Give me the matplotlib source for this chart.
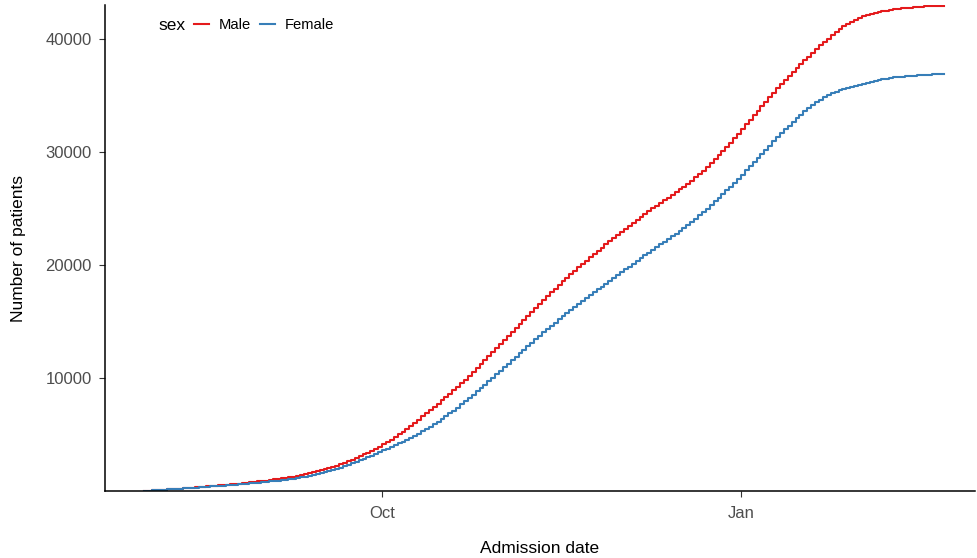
import numpy as np
import matplotlib
matplotlib.use("Agg")
import matplotlib.pyplot as plt
import matplotlib.dates as mdates

plt.rcParams['font.family'] = ['Liberation Sans', 'DejaVu Sans']

# daily admissions, starting on the first admission date
first_day = np.datetime64('2020-08-01')
sexes = ['Male', 'Female']
colors = ['#E41A1C', '#377EB8']

male_daily = [
    18, 19, 20, 21, 22, 22, 23, 24, 25, 26,
    26, 27, 27, 28, 28, 28, 29, 29, 29, 29,
    30, 31, 32, 33, 34, 35, 36, 38, 40, 41,
    40, 42, 44, 46, 48, 50, 52, 55, 59, 64,
    68, 72, 77, 82, 87, 92, 97, 102, 108, 115,
    122, 128, 135, 141, 148, 154, 160, 166, 170, 176,
    185, 195, 205, 215, 225, 235, 245, 255, 265, 275,
    272, 276, 280, 283, 285, 287, 290, 293, 290, 294,
    315, 322, 328, 334, 340, 344, 348, 352, 356, 361,
    355, 356, 357, 356, 355, 355, 354, 354, 354, 354,
    352, 349, 345, 341, 337, 333, 329, 325, 322, 317,
    305, 300, 296, 292, 289, 287, 285, 283, 281, 282,
    278, 275, 271, 268, 265, 262, 260, 258, 257, 256,
    250, 245, 240, 238, 238, 240, 243, 247, 252, 257,
    265, 280, 295, 310, 322, 334, 345, 358, 367, 374,
    385, 393, 398, 402, 404, 404, 403, 403, 404, 404,
    395, 390, 383, 376, 368, 362, 356, 346, 340, 334,
    340, 335, 330, 320, 310, 300, 290, 275, 260, 240,
    220, 195, 175, 155, 140, 125, 110, 95, 75, 60,
    58, 55, 50, 45, 40, 36, 32, 30, 28, 26,
    20, 16, 13, 10, 7, 4,
]

female_daily = [
    18, 19, 20, 20, 21, 22, 23, 23, 24, 25,
    23, 23, 24, 24, 24, 25, 25, 25, 26, 26,
    25, 26, 27, 28, 28, 29, 30, 31, 32, 34,
    32, 34, 35, 37, 38, 39, 41, 43, 44, 47,
    60, 66, 72, 77, 82, 86, 90, 95, 99, 103,
    112, 118, 123, 128, 132, 135, 139, 142, 144, 147,
    148, 150, 153, 156, 159, 161, 164, 167, 170, 172,
    190, 198, 206, 214, 222, 228, 234, 240, 246, 252,
    265, 272, 280, 286, 291, 295, 299, 302, 304, 306,
    308, 310, 311, 312, 312, 312, 312, 311, 311, 311,
    305, 300, 296, 292, 288, 285, 282, 279, 277, 276,
    270, 265, 262, 260, 258, 257, 256, 255, 254, 253,
    253, 252, 252, 251, 250, 250, 249, 248, 248, 247,
    243, 240, 238, 237, 238, 241, 245, 250, 256, 262,
    270, 280, 290, 298, 305, 312, 318, 322, 326, 329,
    340, 348, 355, 360, 364, 366, 367, 367, 367, 366,
    366, 363, 359, 354, 348, 341, 333, 324, 313, 299,
    285, 265, 245, 225, 205, 185, 165, 145, 125, 105,
    100, 97, 94, 90, 88, 86, 83, 80, 77, 75,
    65, 55, 48, 42, 37, 33, 30, 24, 20, 16,
    30, 25, 20, 16, 12, 7,
]

y_ticks = [10000, 20000, 30000, 40000]
x_ticks = ['2020-10-01', '2021-01-01']
x_tick_labels = ['Oct', 'Jan']

fig = plt.figure(figsize=(9.78, 5.58), dpi=100)
ax = fig.add_axes([0.1074, 0.120, 0.8896, 0.871])

for sex, daily, col in zip(sexes, [male_daily, female_daily], colors):
    days = first_day + np.arange(len(daily))
    ax.step(days.astype('datetime64[D]').astype(object), np.cumsum(daily),
            where='post', color=col, lw=1.5, label=sex)

oct1 = mdates.date2num(np.datetime64('2020-10-01'))
ax.set_xlim(oct1 - 71, oct1 + 152)
ax.set_ylim(0, 43000)

ax.set_xticks([mdates.date2num(np.datetime64(d)) for d in x_ticks])
ax.set_xticklabels(x_tick_labels)
ax.set_yticks(y_ticks)
ax.set_yticklabels([str(v) for v in y_ticks])

for s in ['top', 'right']:
    ax.spines[s].set_visible(False)
for s in ['left', 'bottom']:
    ax.spines[s].set_linewidth(1.1)
    ax.spines[s].set_color('black')
ax.tick_params(axis='both', length=4.5, width=0.8, color='#333333',
               labelcolor='#4D4D4D', labelsize=12, pad=5)
ax.tick_params(axis='x', pad=6)

ax.set_xlabel('Admission date', fontsize=12.5, labelpad=15)
ax.set_ylabel('Number of patients', fontsize=12.5, labelpad=14)

fig.text(158 / 978, 1 - 25 / 558, 'sex', fontsize=12.5, va='center', ha='left')
ax.legend(loc='center left', bbox_to_anchor=(194 / 978, 1 - 25 / 558),
          bbox_transform=fig.transFigure, ncol=2, frameon=False,
          fontsize=10.6, handlelength=1.0, handletextpad=0.7,
          columnspacing=0.6, borderpad=0, borderaxespad=0)

fig.savefig('out.png', dpi=100)
